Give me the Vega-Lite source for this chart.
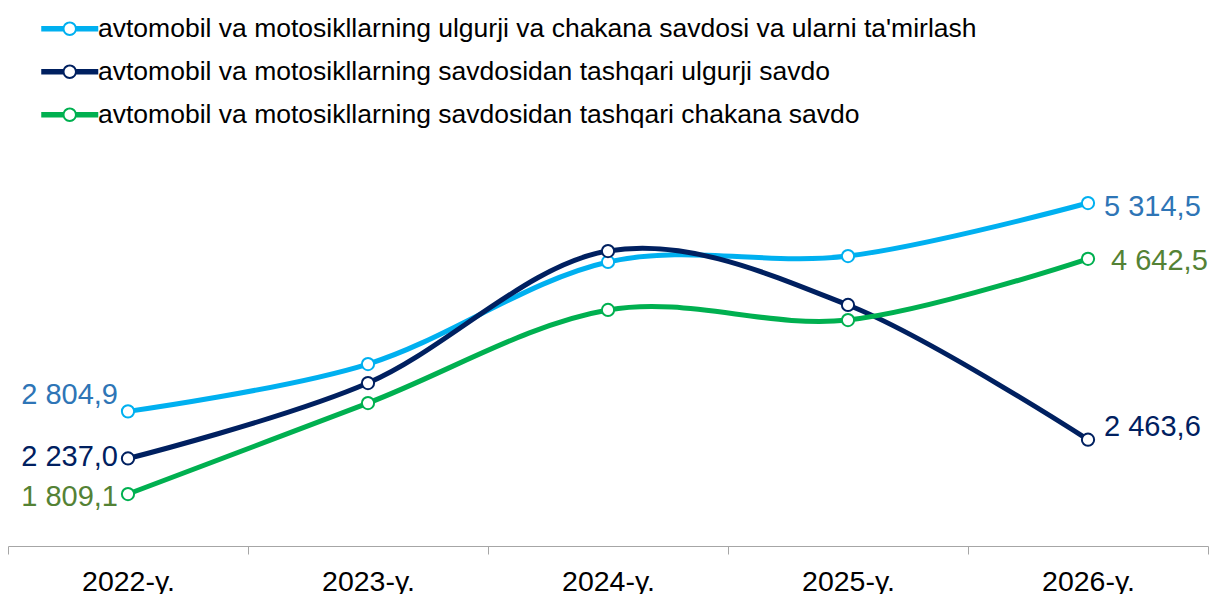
{
  "$schema": "https://vega.github.io/schema/vega-lite/v6.json",
  "width": 1200,
  "height": 396,
  "autosize": {"type": "none"},
  "padding": {"left": 8, "top": 150, "right": 3, "bottom": 48},
  "background": "white",
  "config": {
    "view": {"stroke": null},
    "font": "Liberation Sans",
    "locale": {"number": {"decimal": ",", "thousands": " ", "grouping": [3], "currency": ["", ""]}}
  },
  "data": {
    "values": [
      {"year": "2022-y.", "series": "avtomobil va motosikllarning ulgurji va chakana savdosi va ularni ta'mirlash", "value": 2804.9},
      {"year": "2023-y.", "series": "avtomobil va motosikllarning ulgurji va chakana savdosi va ularni ta'mirlash", "value": 3375},
      {"year": "2024-y.", "series": "avtomobil va motosikllarning ulgurji va chakana savdosi va ularni ta'mirlash", "value": 4604},
      {"year": "2025-y.", "series": "avtomobil va motosikllarning ulgurji va chakana savdosi va ularni ta'mirlash", "value": 4676},
      {"year": "2026-y.", "series": "avtomobil va motosikllarning ulgurji va chakana savdosi va ularni ta'mirlash", "value": 5314.5},
      {"year": "2022-y.", "series": "avtomobil va motosikllarning savdosidan tashqari ulgurji savdo", "value": 2237.0},
      {"year": "2023-y.", "series": "avtomobil va motosikllarning savdosidan tashqari ulgurji savdo", "value": 3146},
      {"year": "2024-y.", "series": "avtomobil va motosikllarning savdosidan tashqari ulgurji savdo", "value": 4736},
      {"year": "2025-y.", "series": "avtomobil va motosikllarning savdosidan tashqari ulgurji savdo", "value": 4086},
      {"year": "2026-y.", "series": "avtomobil va motosikllarning savdosidan tashqari ulgurji savdo", "value": 2463.6},
      {"year": "2022-y.", "series": "avtomobil va motosikllarning savdosidan tashqari chakana savdo", "value": 1809.1},
      {"year": "2023-y.", "series": "avtomobil va motosikllarning savdosidan tashqari chakana savdo", "value": 2905},
      {"year": "2024-y.", "series": "avtomobil va motosikllarning savdosidan tashqari chakana savdo", "value": 4026},
      {"year": "2025-y.", "series": "avtomobil va motosikllarning savdosidan tashqari chakana savdo", "value": 3905},
      {"year": "2026-y.", "series": "avtomobil va motosikllarning savdosidan tashqari chakana savdo", "value": 4642.5}
    ]
  },
  "encoding": {
    "x": {
      "field": "year",
      "type": "ordinal",
      "sort": null,
      "scale": {"type": "band", "paddingInner": 0, "paddingOuter": 0},
      "axis": {
        "title": null,
        "labelAngle": 0,
        "labelFontSize": 28.5,
        "labelColor": "#000000",
        "labelFont": "Liberation Sans",
        "labelPadding": 13,
        "domainColor": "#A6A6A6",
        "domainWidth": 1,
        "tickColor": "#A6A6A6",
        "tickWidth": 1,
        "tickSize": 8,
        "tickBand": "extent",
        "grid": false
      }
    },
    "y": {
      "field": "value",
      "type": "quantitative",
      "scale": {"domain": [1183, 5953], "nice": false, "zero": false},
      "axis": null
    }
  },
  "layer": [
    {
      "mark": {"type": "line", "interpolate": "cardinal", "strokeWidth": 5},
      "encoding": {
        "color": {
          "field": "series",
          "type": "nominal",
          "scale": {
            "domain": [
              "avtomobil va motosikllarning ulgurji va chakana savdosi va ularni ta'mirlash",
              "avtomobil va motosikllarning savdosidan tashqari ulgurji savdo",
              "avtomobil va motosikllarning savdosidan tashqari chakana savdo"
            ],
            "range": ["#00B0F0", "#002060", "#00B050"]
          },
          "legend": {
            "orient": "none",
            "legendX": 48.5,
            "legendY": -134.5,
            "title": null,
            "direction": "vertical",
            "padding": 0,
            "symbolType": "M-2.85,-0.27L-0.6,-0.27L-0.6,0.27L-2.85,0.27Z M0.6,-0.27L2.85,-0.27L2.85,0.27L0.6,0.27Z M0.72,0C0.72,0.3976 0.3976,0.72 0,0.72C-0.3976,0.72 -0.72,0.3976 -0.72,0C-0.72,-0.3976 -0.3976,-0.72 0,-0.72C0.3976,-0.72 0.72,-0.3976 0.72,0Z M0.52,0C0.52,-0.2872 0.2872,-0.52 0,-0.52C-0.2872,-0.52 -0.52,-0.2872 -0.52,0C-0.52,0.2872 -0.2872,0.52 0,0.52C0.2872,0.52 0.52,0.2872 0.52,0Z",
            "symbolSize": 400,
            "symbolStrokeWidth": 0,
            "labelFontSize": 26.5,
            "labelFont": "Liberation Sans",
            "labelColor": "#000000",
            "labelLimit": 1200,
            "labelOffset": 15,
            "rowPadding": 16,
            "encode": {
              "symbols": {
                "update": {
                  "fill": {"scale": "color", "field": "value"},
                  "stroke": {"value": "transparent"},
                  "opacity": {"value": 1}
                }
              }
            }
          }
        }
      }
    },
    {
      "mark": {"type": "point", "filled": true, "fill": "white", "size": 150, "strokeWidth": 2, "opacity": 1},
      "encoding": {
        "stroke": {
          "field": "series",
          "type": "nominal",
          "scale": {
            "domain": [
              "avtomobil va motosikllarning ulgurji va chakana savdosi va ularni ta'mirlash",
              "avtomobil va motosikllarning savdosidan tashqari ulgurji savdo",
              "avtomobil va motosikllarning savdosidan tashqari chakana savdo"
            ],
            "range": ["#00B0F0", "#002060", "#00B050"]
          },
          "legend": null
        }
      }
    },
    {
      "transform": [{"filter": "datum.year == '2022-y.' && datum.value == 2804.9"}],
      "mark": {"type": "text", "align": "right", "baseline": "middle", "dx": -10, "dy": -16, "fontSize": 29, "color": "#2E75B6"},
      "encoding": {"text": {"field": "value", "type": "quantitative", "format": ",.1f"}}
    },
    {
      "transform": [{"filter": "datum.year == '2022-y.' && datum.value == 2237.0"}],
      "mark": {"type": "text", "align": "right", "baseline": "middle", "dx": -10, "dy": -1, "fontSize": 29, "color": "#002060"},
      "encoding": {"text": {"field": "value", "type": "quantitative", "format": ",.1f"}}
    },
    {
      "transform": [{"filter": "datum.year == '2022-y.' && datum.value == 1809.1"}],
      "mark": {"type": "text", "align": "right", "baseline": "middle", "dx": -10, "dy": 3, "fontSize": 29, "color": "#548235"},
      "encoding": {"text": {"field": "value", "type": "quantitative", "format": ",.1f"}}
    },
    {
      "transform": [{"filter": "datum.year == '2026-y.' && datum.value == 5314.5"}],
      "mark": {"type": "text", "align": "left", "baseline": "middle", "dx": 16, "dy": 4, "fontSize": 29, "color": "#2E75B6"},
      "encoding": {"text": {"field": "value", "type": "quantitative", "format": ",.1f"}}
    },
    {
      "transform": [{"filter": "datum.year == '2026-y.' && datum.value == 4642.5"}],
      "mark": {"type": "text", "align": "left", "baseline": "middle", "dx": 23, "dy": 2, "fontSize": 29, "color": "#548235"},
      "encoding": {"text": {"field": "value", "type": "quantitative", "format": ",.1f"}}
    },
    {
      "transform": [{"filter": "datum.year == '2026-y.' && datum.value == 2463.6"}],
      "mark": {"type": "text", "align": "left", "baseline": "middle", "dx": 16, "dy": -13, "fontSize": 29, "color": "#002060"},
      "encoding": {"text": {"field": "value", "type": "quantitative", "format": ",.1f"}}
    }
  ]
}
